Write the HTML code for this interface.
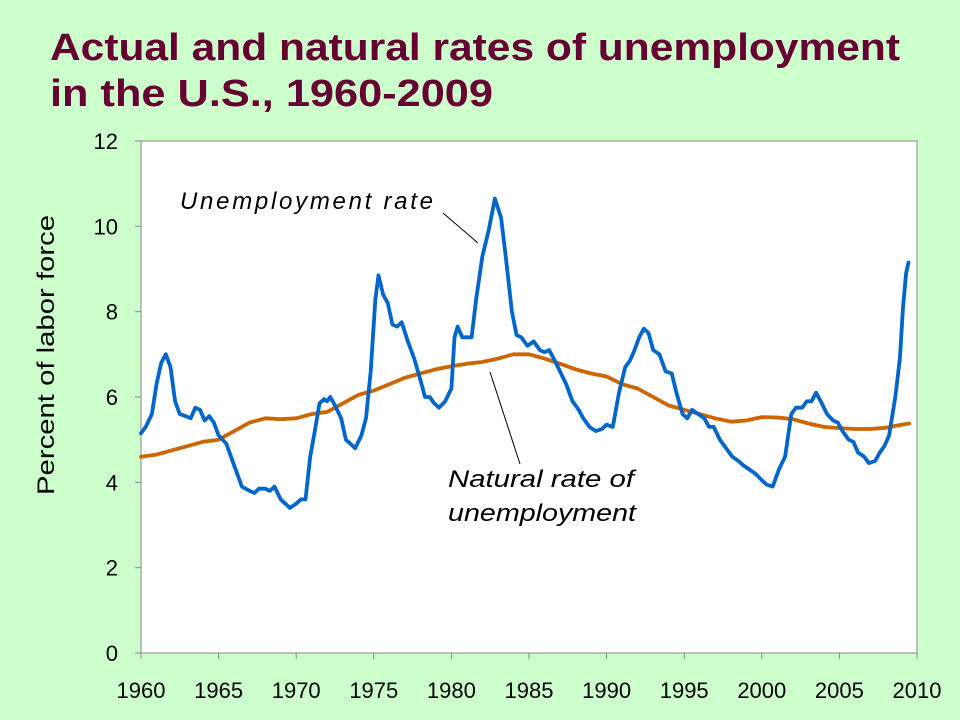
<!DOCTYPE html>
<html><head><meta charset="utf-8"><style>
html,body{margin:0;padding:0;background:#ccffcc;}
svg{display:block;font-family:"Liberation Sans",Arial,sans-serif;}
</style></head><body>
<svg id="chart" width="960" height="720" viewBox="0 0 960 720">
<rect x="0" y="0" width="960" height="720" fill="#ccffcc"/>
<text x="50" y="60" font-size="38" font-weight="bold" fill="#660033" textLength="850" lengthAdjust="spacingAndGlyphs">Actual and natural rates of unemployment</text>
<text x="50" y="106" font-size="38" font-weight="bold" fill="#660033" textLength="443" lengthAdjust="spacingAndGlyphs">in the U.S., 1960-2009</text>
<rect x="141" y="141" width="776" height="512" fill="#ffffff" stroke="#888" stroke-width="1"/>
<g id="yticks"></g>
<g id="xticks"></g>
<text transform="translate(54,355) rotate(-90)" text-anchor="middle" font-size="24" fill="#000" textLength="280" lengthAdjust="spacingAndGlyphs">Percent of labor force</text>
<g id="series"></g>
<text x="180" y="209" font-size="24" font-style="italic" fill="#000" textLength="253" lengthAdjust="spacing">Unemployment rate</text>
<line x1="443" y1="213" x2="478" y2="243" stroke="#000" stroke-width="1"/>
<text x="448" y="487" font-size="24" font-style="italic" fill="#000" textLength="186" lengthAdjust="spacingAndGlyphs">Natural rate of</text>
<text x="448" y="521" font-size="24" font-style="italic" fill="#000" textLength="188" lengthAdjust="spacingAndGlyphs">unemployment</text>
<line x1="490" y1="372" x2="520" y2="464" stroke="#000" stroke-width="1"/>
</svg>
<script>
const yTicks=[0,2,4,6,8,10,12];
const xTicks=[1960,1965,1970,1975,1980,1985,1990,1995,2000,2005,2010];
const uYears=[1960.0,1960.3,1960.7,1961.0,1961.3,1961.6,1961.9,1962.2,1962.5,1962.9,1963.2,1963.5,1963.8,1964.1,1964.4,1964.7,1965.0,1965.5,1966.0,1966.5,1967.0,1967.3,1967.6,1968.0,1968.3,1968.6,1969.0,1969.3,1969.6,1970.0,1970.3,1970.6,1970.9,1971.2,1971.5,1971.8,1972.0,1972.2,1972.5,1972.9,1973.2,1973.5,1973.8,1974.2,1974.5,1974.8,1975.1,1975.3,1975.6,1975.9,1976.2,1976.5,1976.8,1977.2,1977.6,1978.0,1978.3,1978.6,1978.9,1979.2,1979.6,1980.0,1980.2,1980.4,1980.7,1981.0,1981.3,1981.6,1982.0,1982.4,1982.8,1983.2,1983.5,1983.9,1984.2,1984.5,1984.9,1985.3,1985.7,1986.0,1986.3,1986.6,1987.0,1987.4,1987.8,1988.2,1988.5,1988.9,1989.3,1989.7,1990.0,1990.4,1990.8,1991.2,1991.5,1991.8,1992.1,1992.4,1992.7,1993.0,1993.4,1993.8,1994.2,1994.5,1994.9,1995.2,1995.5,1995.9,1996.3,1996.6,1996.9,1997.3,1997.7,1998.1,1998.5,1998.8,1999.2,1999.6,2000.0,2000.3,2000.7,2001.1,2001.5,2001.9,2002.2,2002.6,2002.9,2003.2,2003.5,2003.8,2004.2,2004.6,2004.9,2005.2,2005.6,2005.9,2006.2,2006.6,2006.9,2007.3,2007.6,2007.9,2008.2,2008.6,2008.9,2009.1,2009.3,2009.45];
const uValues=[5.15,5.3,5.6,6.3,6.8,7.0,6.7,5.9,5.6,5.55,5.5,5.75,5.7,5.45,5.55,5.4,5.1,4.9,4.4,3.9,3.8,3.75,3.85,3.85,3.8,3.9,3.6,3.5,3.4,3.5,3.6,3.6,4.6,5.2,5.85,5.95,5.9,6.0,5.8,5.5,5.0,4.9,4.8,5.1,5.5,6.6,8.3,8.85,8.4,8.2,7.7,7.65,7.75,7.3,6.9,6.4,6.0,6.0,5.85,5.75,5.9,6.2,7.4,7.65,7.4,7.4,7.4,8.3,9.3,9.9,10.65,10.2,9.3,8.0,7.45,7.4,7.2,7.3,7.1,7.05,7.1,6.9,6.6,6.3,5.9,5.7,5.5,5.3,5.2,5.25,5.35,5.3,6.1,6.7,6.85,7.1,7.4,7.6,7.5,7.1,7.0,6.6,6.55,6.1,5.6,5.5,5.7,5.6,5.5,5.3,5.3,5.0,4.8,4.6,4.5,4.4,4.3,4.2,4.05,3.95,3.9,4.3,4.6,5.6,5.75,5.75,5.9,5.9,6.1,5.9,5.6,5.45,5.4,5.2,5.0,4.95,4.7,4.6,4.45,4.5,4.7,4.85,5.1,6.0,6.9,8.1,8.9,9.15];
const nYears=[1960,1961,1962,1963,1964,1965,1966,1967,1968,1969,1970,1971,1972,1973,1974,1975,1976,1977,1978,1979,1980,1981,1982,1983,1984,1985,1986,1987,1988,1989,1990,1991,1992,1993,1994,1995,1996,1997,1998,1999,2000,2001,2002,2003,2004,2005,2006,2007,2008,2009,2009.5];
const nValues=[4.6,4.65,4.75,4.85,4.95,5.0,5.2,5.4,5.5,5.48,5.5,5.6,5.65,5.85,6.05,6.15,6.3,6.45,6.55,6.65,6.72,6.78,6.82,6.9,7.0,7.0,6.9,6.78,6.65,6.55,6.48,6.3,6.2,6.0,5.8,5.7,5.6,5.5,5.42,5.45,5.53,5.52,5.48,5.38,5.3,5.27,5.25,5.25,5.28,5.35,5.38];

const NS='http://www.w3.org/2000/svg';
const X0=141,X1=917,Y0=653,Y1=141;
function xs(v){return X0+(v-1960)/(2010-1960)*(X1-X0);}
function ys(v){return Y0-(v/12)*(Y0-Y1);}
const yg=document.getElementById('yticks');
yTicks.forEach(t=>{
  const l=document.createElementNS(NS,'line');
  l.setAttribute('x1',X0-6);l.setAttribute('x2',X0);l.setAttribute('y1',ys(t));l.setAttribute('y2',ys(t));
  l.setAttribute('stroke','#888');
  
  
  yg.appendChild(l);
  const tx=document.createElementNS(NS,'text');
  tx.setAttribute('x',X0-23);tx.setAttribute('y',ys(t)+8);tx.setAttribute('text-anchor','end');tx.setAttribute('font-size','22');
  tx.textContent=t;
  
  
  yg.appendChild(tx);
});
const xg=document.getElementById('xticks');
xTicks.forEach(t=>{
  const l=document.createElementNS(NS,'line');
  l.setAttribute('x1',xs(t));l.setAttribute('x2',xs(t));l.setAttribute('y1',Y0);l.setAttribute('y2',Y0+6);
  l.setAttribute('stroke','#888');
  
  
  xg.appendChild(l);
  const tx=document.createElementNS(NS,'text');
  tx.setAttribute('x',xs(t));tx.setAttribute('y',Y0+45);tx.setAttribute('text-anchor','middle');tx.setAttribute('font-size','22');
  tx.textContent=t;
  
  
  xg.appendChild(tx);
});
const sg=document.getElementById('series');
function path(xsArr,vals,color,name){
  const p=document.createElementNS(NS,'polyline');
  p.setAttribute('points',xsArr.map((x,i)=>xs(x).toFixed(1)+','+ys(vals[i]).toFixed(1)).join(' '));
  p.setAttribute('fill','none');p.setAttribute('stroke',color);p.setAttribute('stroke-width','3.8');
  p.setAttribute('stroke-linejoin','round');p.setAttribute('stroke-linecap','round');
  
  
  sg.appendChild(p);
}
path(nYears,nValues,'#cc6600','natural-rate-line');
path(uYears,uValues,'#0066cc','unemployment-rate-line');
</script>
</body></html>
